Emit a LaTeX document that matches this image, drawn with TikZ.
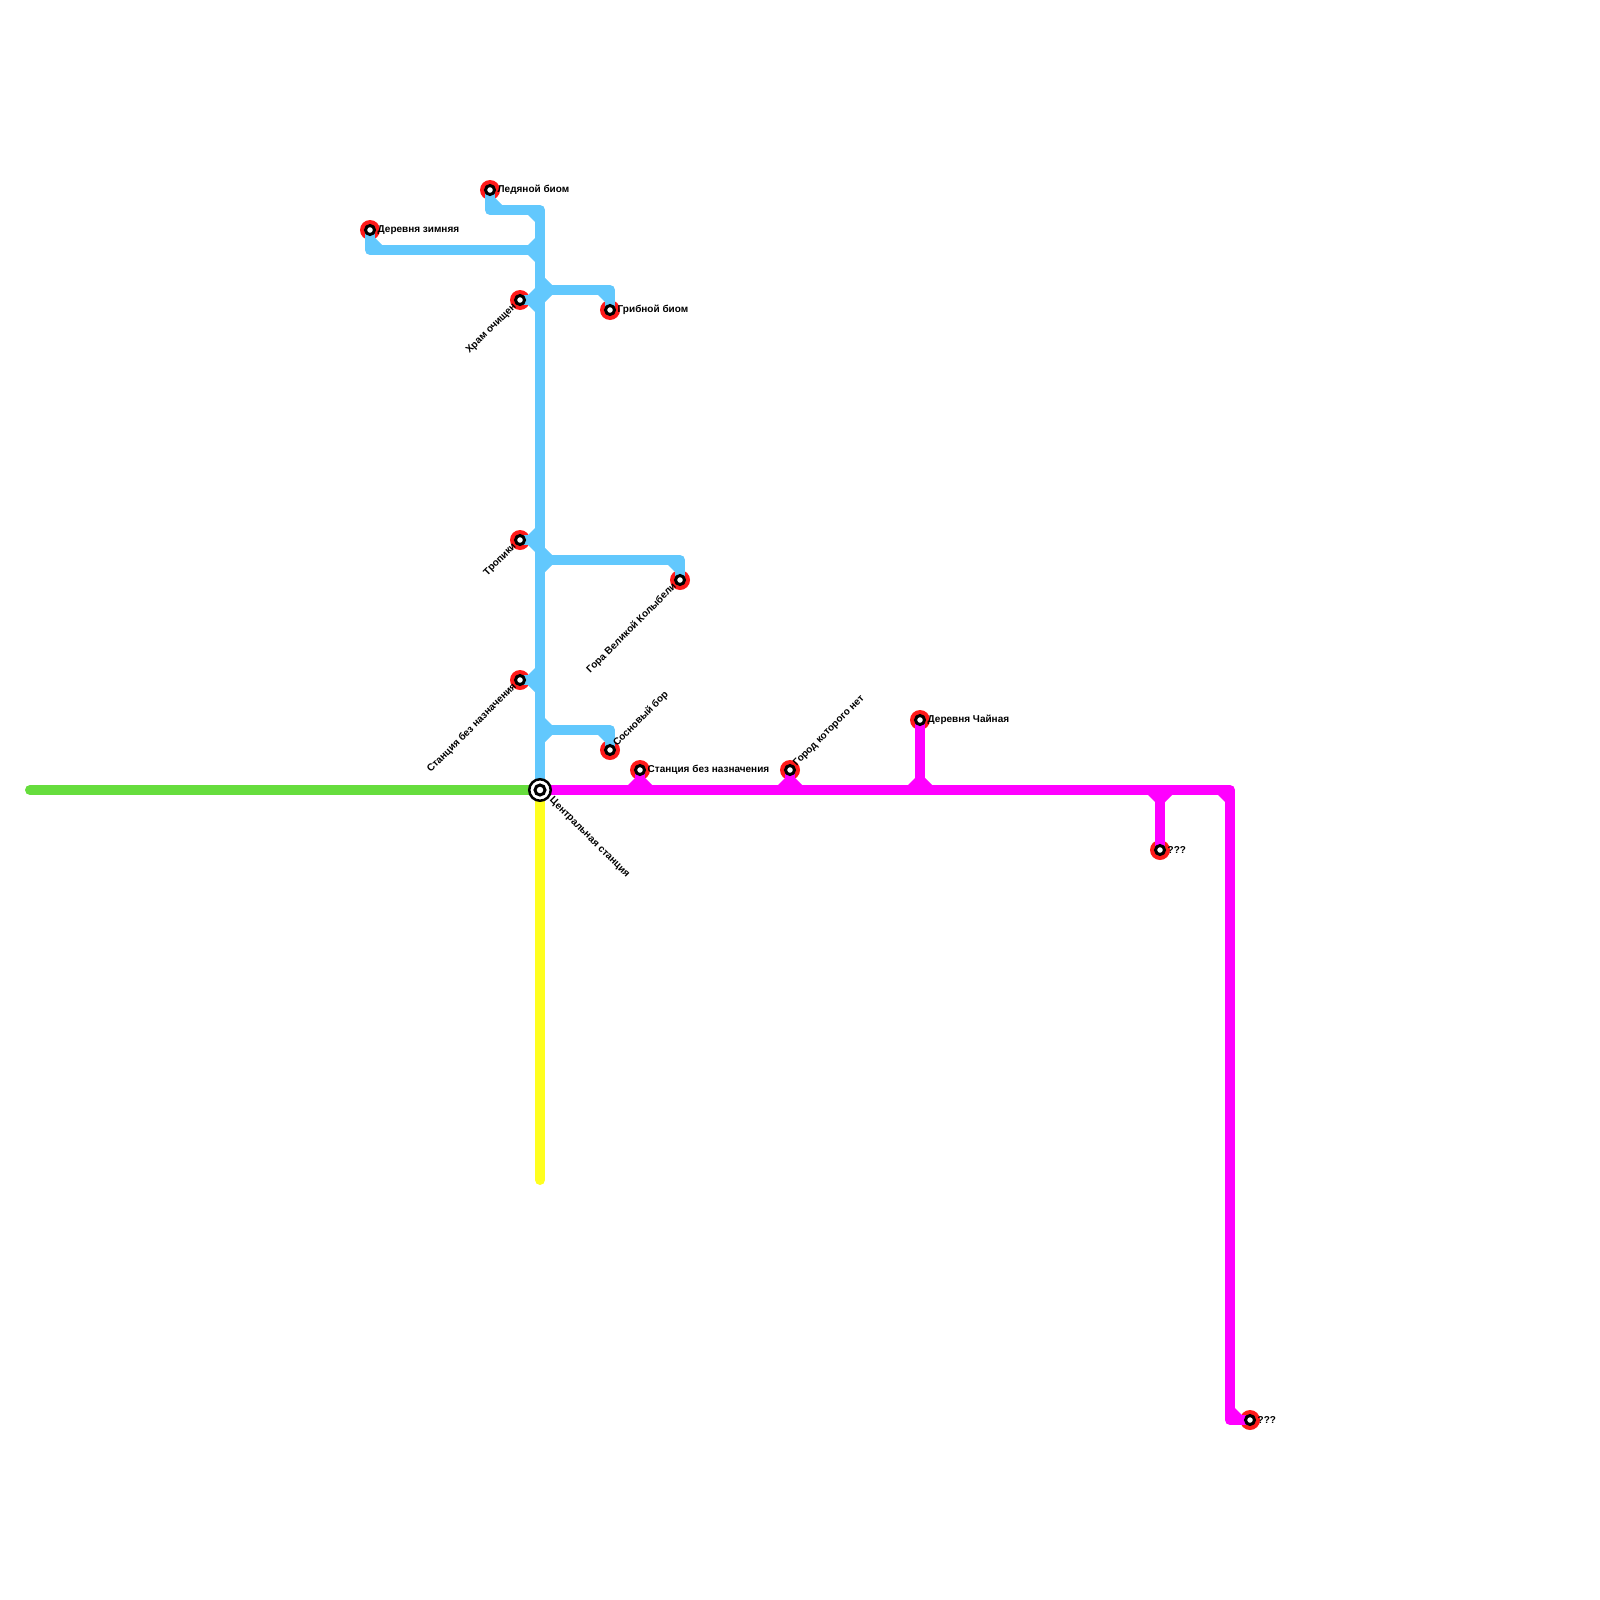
\documentclass[tikz,border=0pt]{standalone}
\usepackage{fontspec}
\setmainfont{Liberation Sans}
\usetikzlibrary{positioning}
\definecolor{iceblue}{HTML}{62C8FD}
\definecolor{leaf}{HTML}{66DD3D}
\definecolor{lemon}{HTML}{FFFF1F}
\definecolor{signred}{HTML}{FF1A1A}
\definecolor{fuchsia}{HTML}{FF00FF}
\tikzset{
  track/.style={line width=10pt,line join=round},
  stop/.style={circle,inner sep=0pt,minimum size=9pt,fill=white,draw=black,line width=3pt},
  sign/.style={font=\fontsize{10}{12}\bfseries\selectfont,inner sep=0pt,text=black},
}
\begin{document}
\begin{tikzpicture}[x=1pt,y=-1pt]
\useasboundingbox (0,0) rectangle (1600,1600);
% stations first, the lines run between them
\coordinate (hubc) at (540,790);
\coordinate (ice) at (490,190);
\coordinate (win) at (370,230);
\coordinate (shr) at (520,300);
\coordinate (mus) at (610,310);
\coordinate (tro) at (520,540);
\coordinate (cra) at (680,580);
\coordinate (non) at (520,680);
\coordinate (pin) at (610,750);
\coordinate (non2) at (640,770);
\coordinate (gho) at (790,770);
\coordinate (tea) at (920,720);
\coordinate (unk) at (1160,850);
\coordinate (far) at (1250,1420);
\coordinate (wend) at (30,790);
\coordinate (send) at (540,1180);
% red discs lie under the lines
\foreach \s in {ice,win,shr,mus,tro,cra,non,pin,non2,gho,tea,unk,far}
  \fill[signred] (\s) circle (10pt);
% lines
\draw[track,iceblue] (hubc) |- (ice |- 0,210) -- (ice);
\draw[track,iceblue] (win) |- (540,250);
\draw[track,iceblue] (shr) -- (540,300);
\draw[track,iceblue] (540,290) -| (mus);
\draw[track,iceblue] (tro) -- (540,540);
\draw[track,iceblue] (540,560) -| (cra);
\draw[track,iceblue] (non) -- (540,680);
\draw[track,iceblue] (540,730) -| (pin);
\draw[track,leaf,line cap=round] (wend) -- (hubc);
\draw[track,lemon,line cap=round] (send) -- (hubc);
\draw[track,fuchsia] (hubc) -| (1230,1420) -- (far);
\draw[track,fuchsia] (non2) -- (640,790);
\draw[track,fuchsia] (gho) -- (790,790);
\draw[track,fuchsia] (tea) -- (920,790);
\draw[track,fuchsia] (unk) -- (1160,790);
% small wedges in the inner corners
\foreach \x/\y/\dx/\dy in {495/205/1/-1,535/215/-1/1,375/245/1/-1,535/245/-1/-1,535/255/-1/1,
    535/295/-1/-1,535/305/-1/1,545/285/1/-1,545/295/1/1,605/295/-1/1,
    535/535/-1/-1,535/545/-1/1,545/555/1/-1,545/565/1/1,675/565/-1/1,
    535/675/-1/-1,535/685/-1/1,545/725/1/-1,545/735/1/1,605/735/-1/1}
  \fill[iceblue] (\x,\y) -- ++(7*\dx,0) -- ++(-7*\dx,7*\dy) -- cycle;
\foreach \x/\y/\dx/\dy in {635/785/-1/-1,645/785/1/-1,785/785/-1/-1,795/785/1/-1,
    915/785/-1/-1,925/785/1/-1,1155/795/-1/1,1165/795/1/1,1225/795/-1/1,1235/1415/1/-1}
  \fill[fuchsia] (\x,\y) -- ++(7*\dx,0) -- ++(-7*\dx,7*\dy) -- cycle;
% stops
\foreach \s in {ice,win,shr,mus,tro,cra,non,pin,non2,gho,tea,unk,far}
  \node[stop] (\s s) at (\s) {};
\node (hub) [circle,inner sep=0pt,minimum size=21.5pt,fill=white,draw=black,line width=2.5pt] at (hubc) {};
\node (hubin) [circle,inner sep=0pt,minimum size=10pt,fill=white,draw=black,line width=3pt] at (hubc) {};
% labels
\node (lice) [sign,right=7.5pt of ices.center] {Ледяной биом};
\node (lwin) [sign,right=7.5pt of wins.center] {Деревня зимняя};
\node (lmus) [sign,right=7.5pt of muss.center] {Грибной биом};
\node (lnon2) [sign,right=7.5pt of non2s.center] {Станция без назначения};
\node (ltea) [sign,right=7.5pt of teas.center] {Деревня Чайная};
\node (lunk) [sign,right=7.5pt of unks.center] {???};
\node (lfar) [sign,right=7.5pt of fars.center] {???};
\node (lshr) [sign,rotate=45,anchor=east] at (515,305) {Храм очищен};
\node (ltro) [sign,rotate=45,anchor=east] at (515,545) {Тропики};
\node (lcra) [sign,rotate=45,anchor=east] at (675,585) {Гора Великой Колыбели};
\node (lnon) [sign,rotate=45,anchor=east] at (515,685) {Станция без назначения};
\node (lpin) [sign,rotate=45,anchor=west] at (615,745) {Сосновый бор};
\node (lgho) [sign,rotate=45,anchor=west] at (795,765) {Город которого нет};
\node (lhub) [sign,rotate=-45,anchor=west] at (551,799) {Центральная станция};
\end{tikzpicture}
\end{document}
